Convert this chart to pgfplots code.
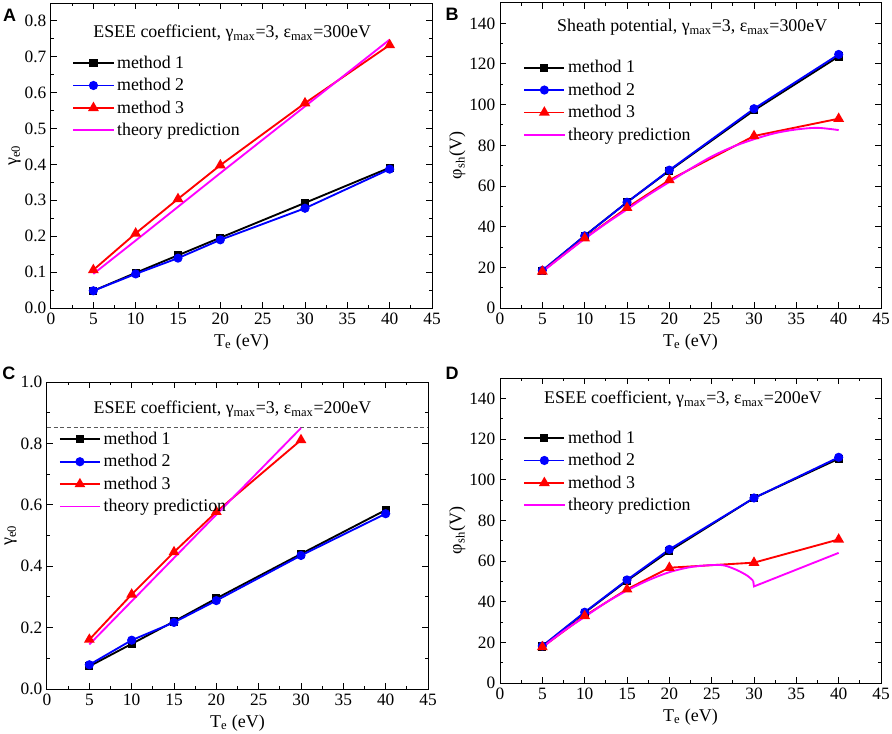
\documentclass[border=0pt]{standalone}
\usepackage{fontspec}
\setmainfont{Liberation Serif}
\newfontfamily\arial{Liberation Sans}
\usepackage{pgfplots}
\pgfplotsset{compat=1.18}
\definecolor{mag}{RGB}{255,0,255}
\definecolor{myblue}{RGB}{0,0,255}
\definecolor{myred}{RGB}{255,0,0}
\newcommand{\ticf}{\rmfamily\fontsize{13}{15}\selectfont}
\newcommand{\legf}{\rmfamily\fontsize{13.4}{15}\selectfont}
\pgfplotsset{
  myax/.style={
    scale only axis, width=285.75pt, height=228.75pt, anchor=south west,
    xmin=0, xmax=45, xtick={0,5,...,45}, minor x tick num=1, minor y tick num=1,
    tick align=inside, major tick length=4.5pt, minor tick length=2.5pt,
    axis line style={line width=0.75pt},
    every tick/.style={line width=0.75pt, black},
    /pgf/number format/assume math mode=true,
    tick label style={font=\ticf},
    label style={font=\rmfamily\fontsize{13.5}{15}\selectfont},
    ylabel shift=-4pt,
    xlabel={T\textsubscript{e} (eV)},
    legend cell align=left,
    legend style={draw=none, fill=none, font=\legf, anchor=north west, row sep=2pt},
    legend image code/.code={\draw[mark repeat=2,mark phase=2,##1] plot coordinates {(0cm,0cm) (0.53cm,0cm) (1.06cm,0cm)};},
  },
  m1/.style={black, line width=1.4pt, mark=square*, mark size=2.4pt, mark options={solid}},
  m2/.style={myblue, line width=1.4pt, mark=*, mark size=2.7pt, mark options={solid}},
  m3/.style={myred, line width=1.4pt, mark=triangle*, mark size=3.3pt, mark options={solid}},
  th/.style={mag, line width=1.4pt, no marks},
}
\begin{document}
\begin{tikzpicture}
\path[use as bounding box] (0,0) rectangle (669pt,549.75pt);

% ---------- A ----------
\begin{axis}[myax, at={(38.25pt,318.75pt)},
  ymin=0, ymax=0.85, ytick={0,0.1,0.2,0.3,0.4,0.5,0.6,0.7,0.8},
  yticklabel style={/pgf/number format/.cd, fixed, fixed zerofill, precision=1},
  ylabel={γ\textsubscript{e0}},
  legend style={at={(rel axis cs:0.045,0.845)}}]
\addplot[m1] coordinates {(5,0.048)(10,0.098)(15,0.147)(20,0.196)(30,0.293)(40,0.391)};
\addlegendentry{method 1}
\addplot[m2] coordinates {(5,0.048)(10,0.095)(15,0.139)(20,0.190)(30,0.278)(40,0.387)};
\addlegendentry{method 2}
\addplot[m3] coordinates {(5,0.106)(10,0.208)(15,0.304)(20,0.398)(30,0.571)(40,0.733)};
\addlegendentry{method 3}
\addplot[th] coordinates {(5,0.095)(10,0.188)(15,0.282)(20,0.376)(30,0.562)(40,0.748)};
\addlegendentry{theory prediction}
\node[font=\legf] at (axis cs:21.4,0.766) {ESEE coefficient, γ\textsubscript{max}=3, ε\textsubscript{max}=300eV};
\end{axis}

% ---------- B ----------
\begin{axis}[myax, at={(375pt,318.75pt)},
  ymin=0, ymax=150, ytick={0,20,...,140},
  ylabel={φ\textsubscript{sh}(V)},
  legend style={at={(rel axis cs:0.05,0.83)}}]
\addplot[m1] coordinates {(5,18.2)(10,35.5)(15,52)(20,67.5)(30,97.2)(40,123.7)};
\addlegendentry{method 1}
\addplot[m2] coordinates {(5,18.5)(10,35.5)(15,52)(20,67.8)(30,98)(40,124.7)};
\addlegendentry{method 2}
\addplot[m3] coordinates {(5,18)(10,34.3)(15,49.3)(20,62.9)(30,84.6)(40,93.1)};
\addlegendentry{method 3}
\addplot[th, smooth] coordinates {(5,17.8)(7.5,26)(10,34)(12.5,41.5)(15,48.5)(17.5,55.5)(20,62)(22.5,68.5)(25,74.5)(27.5,79.3)(30,83)(32.5,86)(35,87.8)(37.5,88.6)(40,87.5)};
\addlegendentry{theory prediction}
\node[font=\legf] at (axis cs:22.7,138) {Sheath potential, γ\textsubscript{max}=3, ε\textsubscript{max}=300eV};
\end{axis}

% ---------- C ----------
\begin{axis}[myax, at={(35.25pt,33pt)}, height=230.25pt,
  ymin=0, ymax=1.0, ytick={0,0.2,0.4,0.6,0.8,1.0},
  yticklabel style={/pgf/number format/.cd, fixed, fixed zerofill, precision=1},
  ylabel={γ\textsubscript{e0}},
  legend style={at={(rel axis cs:0.02,0.855)}}]
\addplot[gray!70!black, line width=0.8pt, dash pattern=on 3pt off 2pt, forget plot] coordinates {(0,0.853)(45,0.853)};
\addplot[m1] coordinates {(5,0.074)(10,0.147)(15,0.220)(20,0.295)(30,0.440)(40,0.583)};
\addlegendentry{method 1}
\addplot[m2] coordinates {(5,0.079)(10,0.159)(15,0.217)(20,0.288)(30,0.435)(40,0.571)};
\addlegendentry{method 2}
\addplot[m3] coordinates {(5,0.161)(10,0.308)(15,0.446)(20,0.577)(30,0.811)};
\addlegendentry{method 3}
\addplot[th] coordinates {(5,0.145)(10,0.286)(15,0.427)(20,0.568)(30,0.850)};
\addlegendentry{theory prediction}
\node[font=\legf] at (axis cs:21.9,0.912) {ESEE coefficient, γ\textsubscript{max}=3, ε\textsubscript{max}=200eV};
\end{axis}

% ---------- D ----------
\begin{axis}[myax, at={(375pt,37.5pt)},
  ymin=0, ymax=150, ytick={0,20,...,140},
  ylabel={φ\textsubscript{sh}(V)},
  legend style={at={(rel axis cs:0.05,0.845)}}]
\addplot[m1] coordinates {(5,18)(10,34.6)(15,50.3)(20,64.9)(30,91)(40,110.3)};
\addlegendentry{method 1}
\addplot[m2] coordinates {(5,18.2)(10,34.8)(15,50.7)(20,65.7)(30,91)(40,111)};
\addlegendentry{method 2}
\addplot[m3] coordinates {(5,17.7)(10,33)(15,46.1)(20,56.7)(30,59.2)(40,70.6)};
\addlegendentry{method 3}
\addplot[th, smooth] coordinates {(5,17.5)(7.5,25.5)(10,32.5)(12.5,39.5)(15,45.5)(17.5,50.5)(20,54.5)(22.5,57)(25,58)(26.5,57.8)(28,55.5)(29.2,52.8)(29.9,50.3)};
\addlegendentry{theory prediction}
\addplot[th, forget plot] coordinates {(29.9,50.3)(30,47.5)(40,64)};
\node[font=\legf] at (axis cs:21.6,139.5) {ESEE coefficient, γ\textsubscript{max}=3, ε\textsubscript{max}=200eV};
\end{axis}

\tikzset{plab/.style={font=\arial\bfseries\fontsize{13.5}{15}\selectfont, inner sep=0pt}}
\node[plab] at (7.2pt,538.5pt) {A};
\node[plab] at (339pt,539pt) {B};
\node[plab] at (6.6pt,270pt) {C};
\node[plab] at (339pt,270pt) {D};
\end{tikzpicture}
\end{document}
